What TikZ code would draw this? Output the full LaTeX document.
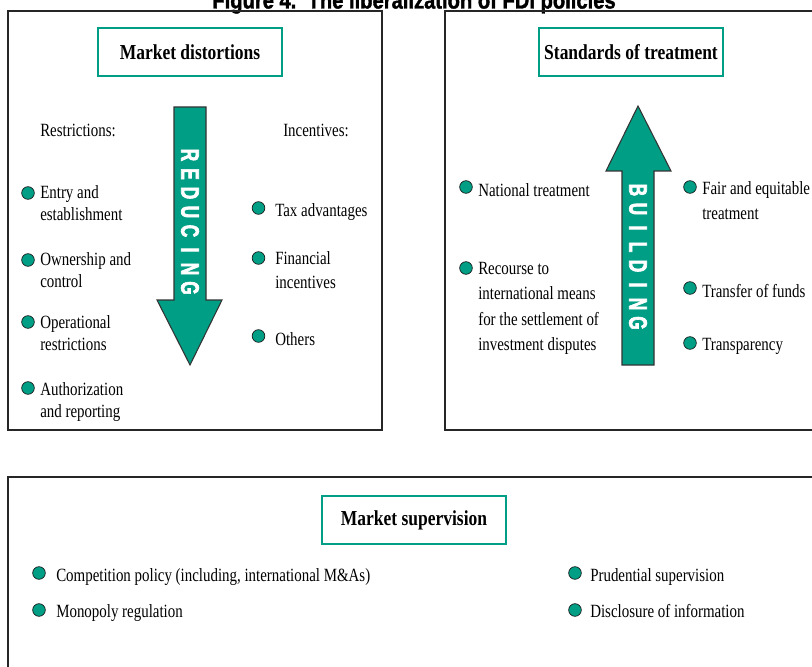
\documentclass[tikz,border=0pt]{standalone}
\usepackage{fontspec}
\setmainfont{Liberation Serif}[FakeStretch=0.8]
\newfontfamily\headfont{Liberation Serif Bold}[FakeStretch=0.82]
\newfontfamily\arrowfont{Liberation Sans Bold}[FakeStretch=0.68,FakeBold=2.5]
\newfontfamily\figfont{Liberation Sans Bold}[FakeStretch=0.84,FakeBold=1.5]
\definecolor{tealgreen}{RGB}{0,158,132}

\begin{document}
\begin{tikzpicture}[x=0.75pt,y=-0.75pt,
    panel/.style={draw=black!85,line width=1.1pt},
    headbox/.style={draw=tealgreen,line width=1.6pt,minimum width=138pt,minimum height=36pt,font=\headfont\fontsize{16}{18}\selectfont},
    dot/.style={circle,draw=black!90,fill=tealgreen,line width=0.5pt,minimum width=7.5pt,minimum height=9.5pt,inner sep=0pt},
    item/.style={anchor=north west,align=left,inner sep=0pt,font=\fontsize{14}{16.5}\selectfont,execute at begin node={\rule{0pt}{13pt}}},
    wide/.style={font=\fontsize{14}{19}\selectfont},
    arrowletter/.style={rotate=-90,text=white,inner sep=0pt,font=\arrowfont\fontsize{19}{19}\selectfont},
    bigarrow/.style={fill=tealgreen,draw=black!80,line width=0.8pt}]
    \clip (0,0) rectangle (812,666);

    \node[anchor=base,font=\figfont\fontsize{18}{18}\selectfont] (fig) at (414,8.5) {Figure 4.\ \ The liberalization of FDI policies};

    % panels
    \draw[panel] (8,11) rectangle (382,430);
    \draw[panel] (445,11) rectangle (830,430);
    \draw[panel] (8,477) rectangle (830,700);

    \node[headbox] (dist) at (190,52) {Market distortions};
    \node[headbox] (std) at (631,52) {Standards of treatment};
    \node[headbox] (sup) at (414,520) {Market supervision};

    % reducing arrow
    \draw[bigarrow] (174,107) -- (206,107) -- (206,300) -- (222,300) -- (190,365) -- (157,300) -- (174,300) -- cycle;
    \foreach \l [count=\i] in {R,E,D,U,C,I,N,G}
        \node[arrowletter] (red\i) at (190,{136+19*\i}) {\l};

    % building arrow
    \draw[bigarrow] (638,106) -- (671,171) -- (654,171) -- (654,365) -- (622,365) -- (622,171) -- (606,171) -- cycle;
    \foreach \l [count=\i] in {B,U,I,L,D,I,N,G}
        \node[arrowletter] (bld\i) at (638,{171+19*\i}) {\l};

    % market distortions
    \node[item] (restr) at (40,119) {Restrictions:};
    \node[item] (incen) at (283,119) {Incentives:};
    \node[dot] (d1) at (28,193) {};
    \node[item] (entry) at (40,185) {Entry and\\establishment};
    \node[dot] (d2) at (28,260) {};
    \node[item] (owner) at (40,252) {Ownership and\\control};
    \node[dot] (d3) at (28,322) {};
    \node[item] (oper) at (40,315) {Operational\\restrictions};
    \node[dot] (d4) at (28,388) {};
    \node[item] (auth) at (40,382) {Authorization\\and reporting};
    \node[dot] (d5) at (258.5,208) {};
    \node[item] (tax) at (275,199) {Tax advantages};
    \node[dot] (d6) at (258.5,258) {};
    \node[item,font=\fontsize{14}{18}\selectfont] (fin) at (275,251) {Financial\\incentives};
    \node[dot] (d7) at (258.5,336) {};
    \node[item] (other) at (275,328) {Others};

    % standards of treatment
    \node[dot] (s1) at (466,187) {};
    \node[item] (nat) at (478,179) {National treatment};
    \node[dot] (s2) at (466,268) {};
    \node[item,wide] (recourse) at (478,262) {Recourse to\\international means\\for the settlement of\\investment disputes};
    \node[dot] (s3) at (690,187) {};
    \node[item,wide] (fair) at (702,181) {Fair and equitable\\treatment};
    \node[dot] (s4) at (690,288) {};
    \node[item] (transfer) at (702,280) {Transfer of funds};
    \node[dot] (s5) at (690,343) {};
    \node[item] (transp) at (702,333) {Transparency};

    % market supervision
    \node[dot] (m1) at (39,573) {};
    \node[item] (comp) at (56,564) {Competition policy (including, international M\&As)};
    \node[dot] (m2) at (39,610) {};
    \node[item] (mono) at (56,600) {Monopoly regulation};
    \node[dot] (m3) at (575,573) {};
    \node[item] (prud) at (590,564) {Prudential supervision};
    \node[dot] (m4) at (575,610) {};
    \node[item] (discl) at (590,600) {Disclosure of information};
\end{tikzpicture}
\end{document}
